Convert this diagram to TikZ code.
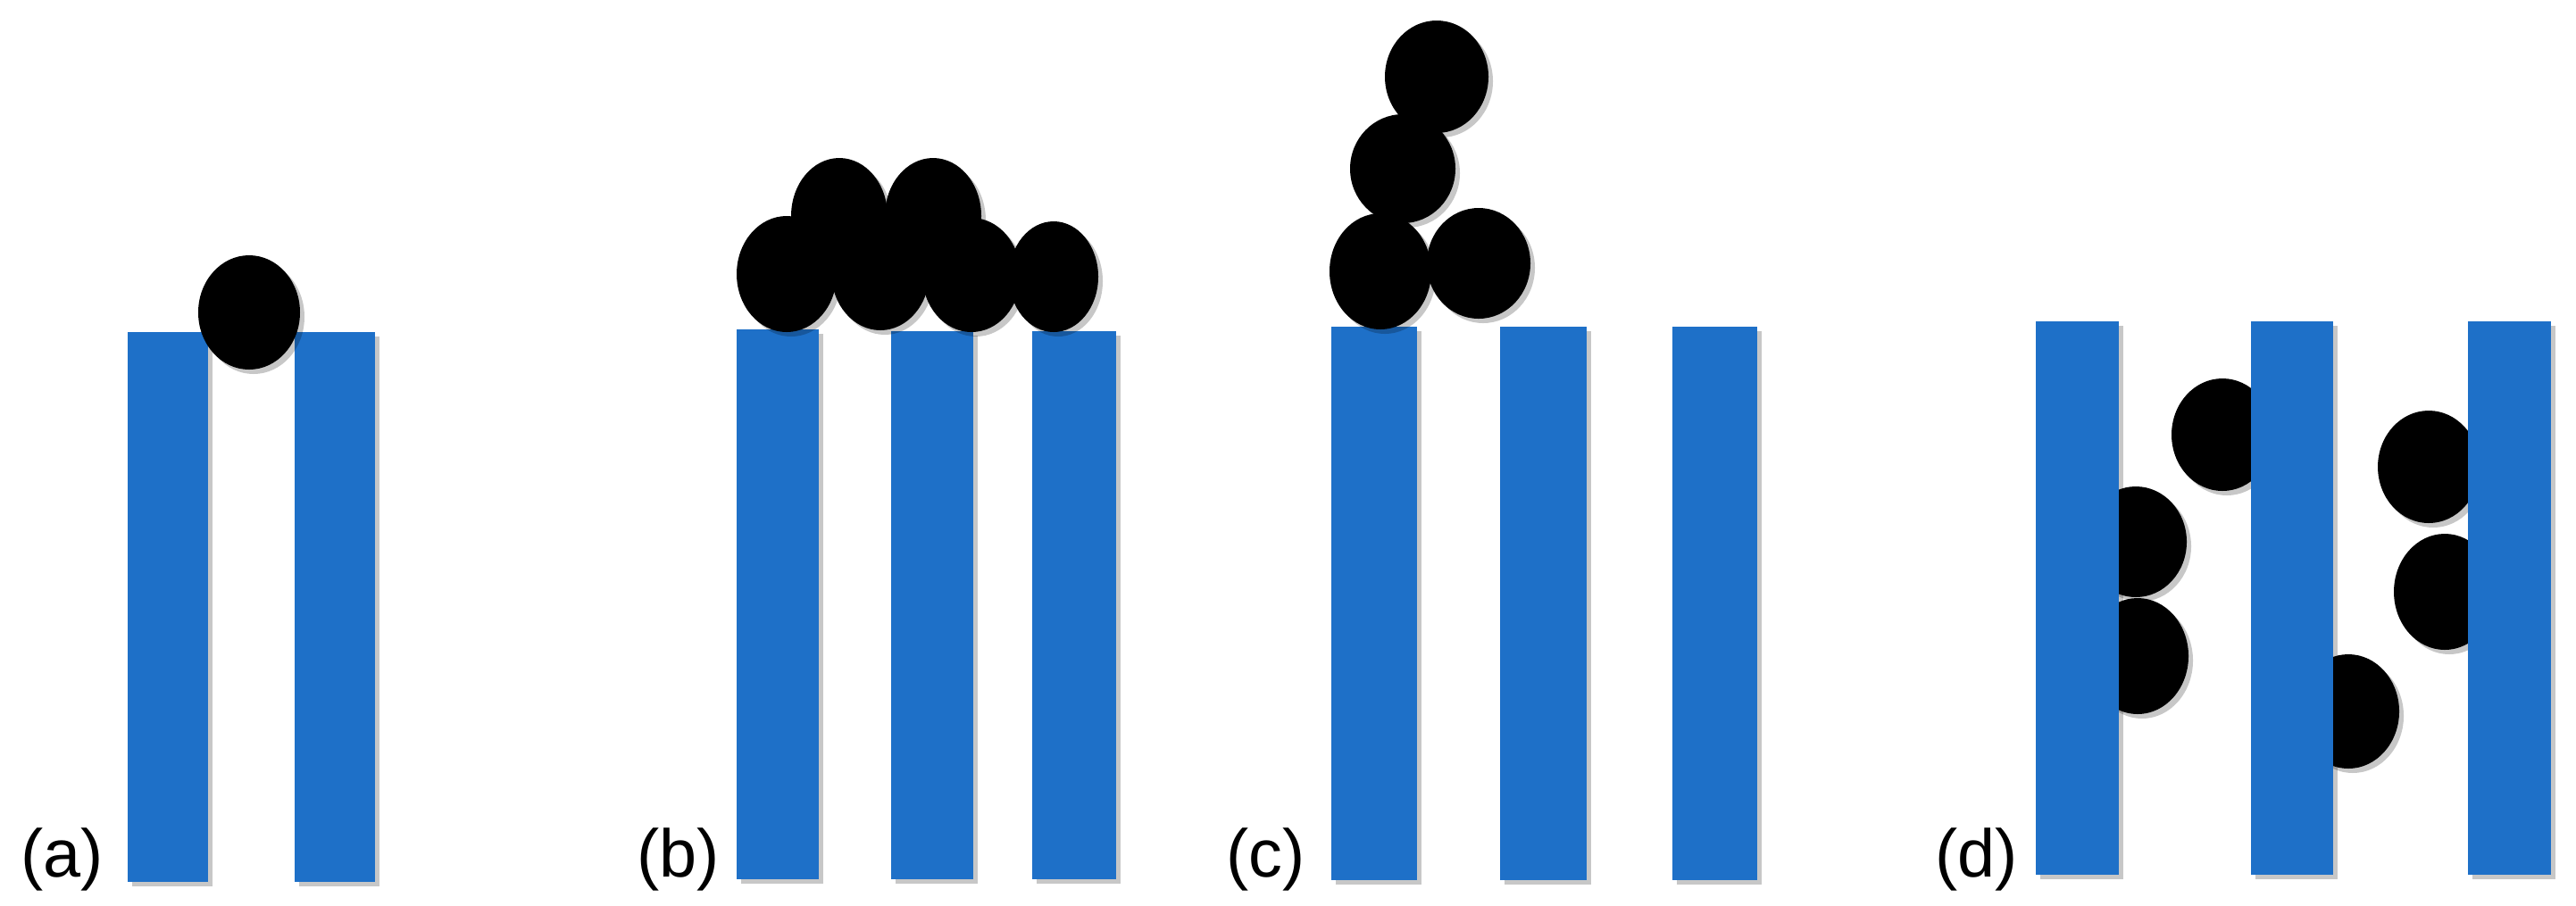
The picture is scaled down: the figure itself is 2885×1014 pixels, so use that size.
\documentclass[tikz,border=0pt]{standalone}
\usepackage{fontspec}
\setmainfont{Liberation Sans}
\usetikzlibrary{calc}
\definecolor{barblue}{RGB}{30,112,200}
% shadow and body of a bar
\newcommand{\pillarshade}[4]{%
  \fill[shadowc] ($(#1,#2)+(5,5)$) rectangle ($(#3,#4)+(5,5)$);}
\newcommand{\pillar}[5]{%
  \fill[bar] (#2,#3) rectangle (#4,#5) coordinate (#1);}
% shadow and body of a particle
\newcommand{\blobshade}[4]{%
  \fill[shadowc] ($(#1,#2)+(5,5)$) ellipse [x radius=#3, y radius=#4];}
\newcommand{\blob}[5]{%
  \fill[particle] (#2,#3) ellipse [x radius=#4, y radius=#5] coordinate (#1);}
\begin{document}
\begin{tikzpicture}[x=0.01cm,y=-0.01cm,
  bar/.style={fill=barblue},
  particle/.style={fill=black},
  shadowc/.style={fill=black,opacity=0.22},
  lbl/.style={anchor=base west,inner sep=0pt,font=\fontsize{21.5}{26}\selectfont}]
\useasboundingbox[fill=white] (0,0) rectangle (2885,1014);
% ---------------- (a)
\pillarshade{143}{372}{233}{988}
\pillarshade{330}{372}{420}{988}
\pillar{a1}{143}{372}{233}{988}
\pillar{a2}{330}{372}{420}{988}
\blobshade{279}{350}{57}{64}
\blob{pa}{279}{350}{57}{64}
\node[lbl] (la) at (23,982) {(a)};
% ---------------- (b)
\pillarshade{825}{369}{917}{985}
\pillarshade{998}{371}{1090}{985}
\pillarshade{1156}{371}{1250}{985}
\pillar{b1}{825}{369}{917}{985}
\pillar{b2}{998}{371}{1090}{985}
\pillar{b3}{1156}{371}{1250}{985}
\blobshade{940}{242}{54}{65}
\blobshade{1045}{242}{54}{65}
\blobshade{881}{307}{56}{65}
\blobshade{986}{305}{55}{65}
\blobshade{1088}{308}{55}{64}
\blobshade{1180}{310}{50}{62}
\blob{pb1}{940}{242}{54}{65}
\blob{pb2}{1045}{242}{54}{65}
\blob{pb3}{881}{307}{56}{65}
\blob{pb4}{986}{305}{55}{65}
\blob{pb5}{1088}{308}{55}{64}
\blob{pb6}{1180}{310}{50}{62}
\node[lbl] (lb) at (713,982) {(b)};
% ---------------- (c)
\pillarshade{1491}{366}{1587}{986}
\pillarshade{1680}{366}{1777}{986}
\pillarshade{1873}{366}{1968}{986}
\pillar{c1}{1491}{366}{1587}{986}
\pillar{c2}{1680}{366}{1777}{986}
\pillar{c3}{1873}{366}{1968}{986}
\blobshade{1609}{86}{58}{63}
\blobshade{1571}{189}{59}{61}
\blobshade{1546}{304}{57}{65}
\blobshade{1656}{295}{58}{62}
\blob{pc1}{1609}{86}{58}{63}
\blob{pc2}{1571}{189}{59}{61}
\blob{pc3}{1546}{304}{57}{65}
\blob{pc4}{1656}{295}{58}{62}
\node[lbl] (lc) at (1373,982) {(c)};
% ---------------- (d)
\blobshade{2489}{487}{57}{63}
\blobshade{2392}{607}{57}{62}
\blobshade{2394}{735}{57}{65}
\blobshade{2630}{797}{57}{64}
\blobshade{2720}{523}{57}{63}
\blobshade{2738}{663}{57}{65}
\blob{pd1}{2489}{487}{57}{63}
\blob{pd2}{2392}{607}{57}{62}
\blob{pd3}{2394}{735}{57}{65}
\blob{pd4}{2630}{797}{57}{64}
\blob{pd5}{2720}{523}{57}{63}
\blob{pd6}{2738}{663}{57}{65}
\pillarshade{2280}{360}{2373}{980}
\pillarshade{2521}{360}{2613}{980}
\pillarshade{2764}{360}{2857}{980}
\pillar{d1}{2280}{360}{2373}{980}
\pillar{d2}{2521}{360}{2613}{980}
\pillar{d3}{2764}{360}{2857}{980}
\node[lbl] (ld) at (2167,982) {(d)};
\end{tikzpicture}
\end{document}
